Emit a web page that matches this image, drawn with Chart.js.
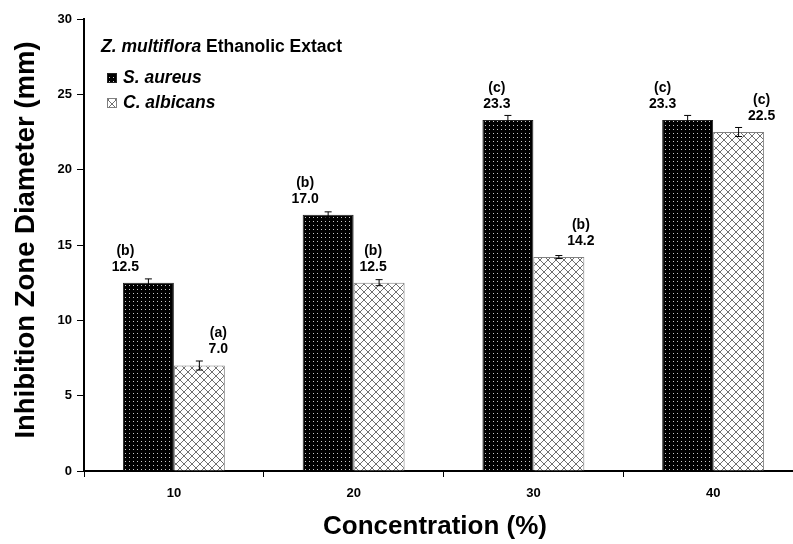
<!DOCTYPE html>
<html>
<head>
<meta charset="utf-8">
<script src="https://cdn.jsdelivr.net/npm/chart.js@4.4.0/dist/chart.umd.min.js"></script>
<style>
  html, body { margin: 0; padding: 0; background: #fff; overflow: hidden; }
  #wrap { width: 812px; height: 544px; }
</style>
</head>
<body>
<div id="wrap"><canvas id="c" width="812" height="544"></canvas></div>
<script>
// ---- data ----
const concentrations = ['10', '20', '30', '40'];
const seriesNames = ['S. aureus', 'C. albicans'];
const aureusMean = [12.5, 17.0, 23.3, 23.3];
const albicansMean = [7.0, 12.5, 14.2, 22.5];
const aureusErr = [0.25, 0.2, 0.3, 0.3];
const albicansErr = [0.3, 0.2, 0.1, 0.3];
const aureusGroup = ['(b)', '(b)', '(c)', '(c)'];
const albicansGroup = ['(a)', '(b)', '(b)', '(c)'];
const xTitle = 'Concentration (%)';
const yTitle = 'Inhibition Zone Diameter (mm)';

// ---- style ----
const FONT = '"Liberation Sans", Arial, Helvetica, sans-serif';
// horizontal offset (px) of each value label from its bar centre
const labelShift = [[-23, -23, -11, -25], [19, -6, 22, 23]];

function dotPattern() {
  const t = document.createElement('canvas');
  t.width = 4; t.height = 4;
  const g = t.getContext('2d');
  g.fillStyle = '#000'; g.fillRect(0, 0, 4, 4);
  g.fillStyle = '#c8c8c8'; g.fillRect(1, 1, 1, 1);
  return g.createPattern(t, 'repeat');
}
function crossPattern() {
  const t = document.createElement('canvas');
  t.width = 8; t.height = 8;
  const g = t.getContext('2d');
  g.fillStyle = '#fff'; g.fillRect(0, 0, 8, 8);
  g.fillStyle = '#707070';
  for (let i = 0; i < 8; i++) { g.fillRect(i, i, 1, 1); g.fillRect(7 - i, i, 1, 1); }
  return g.createPattern(t, 'repeat');
}
const fills = [dotPattern(), crossPattern()];
const borders = ['#222', '#808080'];

const errors = [aureusErr, albicansErr];
const groups = [aureusGroup, albicansGroup];

// error bars, group letters and mean values above the bars
const annotate = {
  id: 'annotate',
  afterDatasetsDraw(chart) {
    const ctx = chart.ctx, y = chart.scales.y;
    ctx.save();
    chart.data.datasets.forEach((ds, di) => {
      const meta = chart.getDatasetMeta(di);
      meta.data.forEach((bar, i) => {
        const v = ds.data[i], e = errors[di][i];
        const yt = y.getPixelForValue(v + e), yb = y.getPixelForValue(v - e);
        ctx.strokeStyle = '#000'; ctx.lineWidth = 1;
        ctx.beginPath();
        ctx.moveTo(bar.x, yt); ctx.lineTo(bar.x, yb);
        ctx.moveTo(bar.x - 3.5, yt); ctx.lineTo(bar.x + 3.5, yt);
        ctx.moveTo(bar.x - 3.5, yb); ctx.lineTo(bar.x + 3.5, yb);
        ctx.stroke();
        const lx = bar.x + labelShift[di][i];
        ctx.fillStyle = '#000';
        ctx.font = 'bold 14px ' + FONT;
        ctx.textAlign = 'center'; ctx.textBaseline = 'middle';
        ctx.fillText(v.toFixed(1), lx, bar.y - 16);
        ctx.fillText(groups[di][i], lx, bar.y - 32);
      });
    });
    ctx.restore();
  }
};

// legend box inside the plot area, plus the two axis titles
const legendBox = {
  id: 'legendBox',
  afterDraw(chart) {
    const ctx = chart.ctx;
    ctx.save();
    ctx.fillStyle = '#000';
    ctx.textBaseline = 'middle'; ctx.textAlign = 'left';
    ctx.font = 'italic bold 17.5px ' + FONT;
    const part1 = 'Z. multiflora ';
    ctx.fillText(part1, 101, 47);
    const w = ctx.measureText(part1).width;
    ctx.font = 'bold 17.5px ' + FONT;
    ctx.fillText('Ethanolic Extact', 101 + w, 47);
    chart.data.datasets.forEach((ds, di) => {
      const cy = 78 + di * 25;
      ctx.fillStyle = ds.backgroundColor;
      ctx.fillRect(107, cy - 5, 10, 10);
      ctx.strokeStyle = ds.borderColor; ctx.lineWidth = 1;
      ctx.strokeRect(107.5, cy - 4.5, 9, 9);
      ctx.fillStyle = '#000';
      ctx.font = 'italic bold 17.5px ' + FONT;
      ctx.fillText(ds.label, 123, cy);
    });

    // axis titles
    ctx.fillStyle = '#000';
    ctx.textAlign = 'center'; ctx.textBaseline = 'middle';
    ctx.font = 'bold 26px ' + FONT;
    ctx.fillText(xTitle, 435, 527);
    ctx.translate(26, 240);
    ctx.rotate(-Math.PI / 2);
    ctx.font = 'bold 27.5px ' + FONT;
    ctx.fillText(yTitle, 0, 0);
    ctx.restore();
  }
};

new Chart(document.getElementById('c'), {
  type: 'bar',
  data: {
    labels: concentrations,
    datasets: [aureusMean, albicansMean].map((d, i) => ({
      label: seriesNames[i],
      data: d,
      backgroundColor: fills[i],
      borderColor: borders[i],
      borderWidth: 1,
      categoryPercentage: 0.567,
      barPercentage: 1.0
    }))
  },
  options: {
    responsive: false,
    animation: false,
    layout: { padding: { left: 0, right: 9, top: 19, bottom: 0 } },
    plugins: { legend: { display: false }, tooltip: { enabled: false } },
    scales: {
      x: {
        afterFit(s) { s.height = 73; },
        border: { display: true, color: '#000', width: 2 },
        grid: { offset: true, drawOnChartArea: false, drawTicks: true, tickLength: 6, color: '#000', lineWidth: 1 },
        ticks: { color: '#000', font: { family: FONT, size: 13, weight: 'bold' }, padding: 9 }
      },
      y: {
        min: 0, max: 30,
        afterFit(s) { s.width = 84; },
        border: { display: true, color: '#000', width: 2 },
        grid: { drawOnChartArea: false, drawTicks: true, tickLength: 7, color: '#000', lineWidth: 1 },
        ticks: { stepSize: 5, color: '#000', font: { family: FONT, size: 13, weight: 'bold' }, padding: 5 }
      }
    }
  },
  plugins: [annotate, legendBox]
});
</script>
</body>
</html>
